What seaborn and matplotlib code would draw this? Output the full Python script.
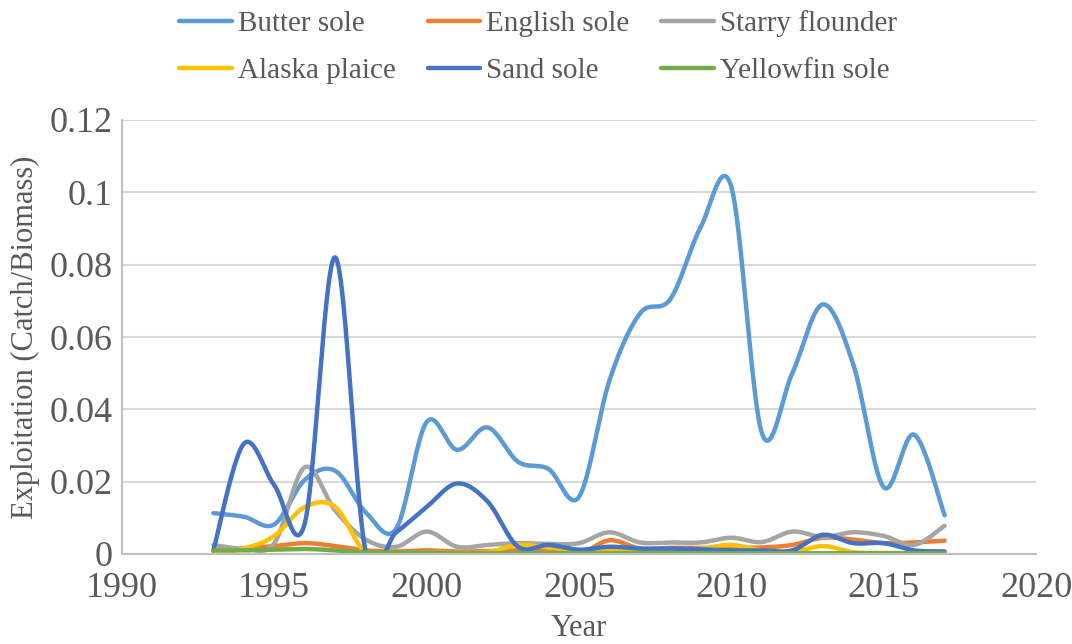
import numpy as np
import pandas as pd
import matplotlib
matplotlib.use("Agg")
import matplotlib.pyplot as plt
import seaborn as sns

years = list(range(1993, 2018))
species = ["Butter sole", "English sole", "Starry flounder", "Alaska plaice", "Sand sole", "Yellowfin sole"]

butter_sole = [0.0113, 0.0103, 0.0082, 0.0205, 0.0230, 0.0115, 0.0070, 0.0365, 0.0288, 0.0350,
               0.0255, 0.0235, 0.0158, 0.0480, 0.0665, 0.0705, 0.0905, 0.1015, 0.0335, 0.0500,
               0.0690, 0.0525, 0.0185, 0.0330, 0.0107]
english_sole = [0.0010, 0.0015, 0.0022, 0.0030, 0.0022, 0.0010, 0.0007, 0.0010, 0.0007, 0.0008,
                0.0010, 0.0008, 0.0000, 0.0038, 0.0015, 0.0017, 0.0017, 0.0017, 0.0018, 0.0025,
                0.0045, 0.0040, 0.0030, 0.0032, 0.0037]
starry_flounder = [0.0025, 0.0015, 0.0030, 0.0240, 0.0120, 0.0040, 0.0020, 0.0062, 0.0020, 0.0025,
                   0.0030, 0.0028, 0.0030, 0.0060, 0.0032, 0.0032, 0.0032, 0.0045, 0.0033, 0.0062,
                   0.0047, 0.0060, 0.0050, 0.0025, 0.0078]
alaska_plaice = [0.0003, 0.0015, 0.0050, 0.0130, 0.0130, 0.0003, 0.0002, 0.0003, 0.0003, 0.0005,
                 0.0025, 0.0018, 0.0010, 0.0008, 0.0008, 0.0010, 0.0015, 0.0025, 0.0010, 0.0005,
                 0.0022, 0.0005, 0.0003, 0.0002, 0.0002]
sand_sole = [0.0010, 0.0305, 0.0190, 0.0085, 0.0820, 0.0005, 0.0060, 0.0130, 0.0195, 0.0145,
             0.0020, 0.0025, 0.0012, 0.0020, 0.0015, 0.0015, 0.0013, 0.0010, 0.0010, 0.0010,
             0.0053, 0.0030, 0.0030, 0.0010, 0.0007]
yellowfin_sole = [0.0010, 0.0010, 0.0012, 0.0014, 0.0010, 0.0004, 0.0004, 0.0003, 0.0002, 0.0002,
                  0.0002, 0.0002, 0.0002, 0.0002, 0.0002, 0.0002, 0.0002, 0.0002, 0.0002, 0.0002,
                  0.0002, 0.0002, 0.0002, 0.0002, 0.0002]

series = [butter_sole, english_sole, starry_flounder, alaska_plaice, sand_sole, yellowfin_sole]
colors = ["#5B9BD5", "#ED7D31", "#A5A5A5", "#FFC000", "#4472C4", "#70AD47"]

x_ticks = [1990, 1995, 2000, 2005, 2010, 2015, 2020]
y_ticks = [0, 0.02, 0.04, 0.06, 0.08, 0.1, 0.12]
y_tick_labels = ["0", "0.02", "0.04", "0.06", "0.08", "0.1", "0.12"]


def excel_smooth(xs, ys, n=40):
    """Excel-like smoothed line: cubic Bezier segments with 1/6 Catmull-Rom control points."""
    P = np.column_stack([np.asarray(xs, float), np.asarray(ys, float)])
    m = len(P)
    out = []
    t = np.linspace(0, 1, n)[:, None]
    for i in range(m - 1):
        p0 = P[i - 1] if i > 0 else P[i]
        p1 = P[i]
        p2 = P[i + 1]
        p3 = P[i + 2] if i + 2 < m else P[i + 1]
        c1 = p1 + (p2 - p0) / 6.0
        c2 = p2 - (p3 - p1) / 6.0
        seg = ((1 - t) ** 3) * p1 + 3 * ((1 - t) ** 2) * t * c1 + 3 * (1 - t) * t ** 2 * c2 + t ** 3 * p2
        if i > 0:
            seg = seg[1:]
        out.append(seg)
    return np.vstack(out)


frames = []
for name, vals in zip(species, series):
    pts = excel_smooth(years, vals)
    frames.append(pd.DataFrame({"x": pts[:, 0], "y": pts[:, 1], "species": name,
                                "order": np.arange(len(pts))}))
df = pd.concat(frames, ignore_index=True)

sns.set_theme(style="white")
plt.rcParams["font.family"] = ["Liberation Serif", "DejaVu Serif"]
text_color = "#595959"

right_px = 1036
fig = plt.figure(figsize=(10.72, 6.44), dpi=100)
ax = fig.add_axes([122 / 1072, 90 / 644, (right_px - 122) / 1072, (554 - 120) / 644])

sns.lineplot(data=df, x="x", y="y", hue="species", hue_order=species,
             palette=dict(zip(species, colors)), sort=False, estimator=None,
             linewidth=3.2, ax=ax, legend=True)

ax.set_xlim(1990, 2020)
ax.set_ylim(0, 0.12)
ax.set_xticks(x_ticks)
ax.set_xticklabels([str(v) for v in x_ticks])
ax.set_yticks(y_ticks)
ax.set_yticklabels(y_tick_labels)
ax.tick_params(axis="both", length=0, labelsize=26, colors=text_color)
ax.tick_params(axis="x", pad=13)
ax.tick_params(axis="y", pad=7)
ax.grid(axis="y", color="#D9D9D9", linewidth=1.5)
ax.grid(axis="x", visible=False)
for side in ["top", "right"]:
    ax.spines[side].set_visible(False)
for side in ["left", "bottom"]:
    ax.spines[side].set_color("#BFBFBF")
    ax.spines[side].set_linewidth(1.5)
ax.set_axisbelow(True)

ax.set_xlabel("Year", fontsize=22, color=text_color)
ax.set_ylabel("Exploitation (Catch/Biomass)", fontsize=22, color=text_color)
ax.xaxis.set_label_coords(0.5, -(629 - 554) / 434)
ax.xaxis.label.set_va("center")
ax.yaxis.set_label_coords(-(122 - 25) / (right_px - 122), 0.5)
ax.yaxis.label.set_va("center")

handles, labels = ax.get_legend_handles_labels()
ax.get_legend().remove()
hmap = dict(zip(labels, handles))
order = ["Butter sole", "Alaska plaice", "English sole", "Sand sole", "Starry flounder", "Yellowfin sole"]
leg = fig.legend([hmap[k] for k in order], order, loc="center",
                 bbox_to_anchor=(538 / 1072, 1 - 47 / 644), ncol=3, frameon=False,
                 fontsize=21, handlelength=1.8, handletextpad=0.2, columnspacing=1.1,
                 labelspacing=0.72)
for txt in leg.get_texts():
    txt.set_color(text_color)
for line in leg.get_lines():
    line.set_linewidth(3.2)

fig.savefig("out.png", dpi=100)
